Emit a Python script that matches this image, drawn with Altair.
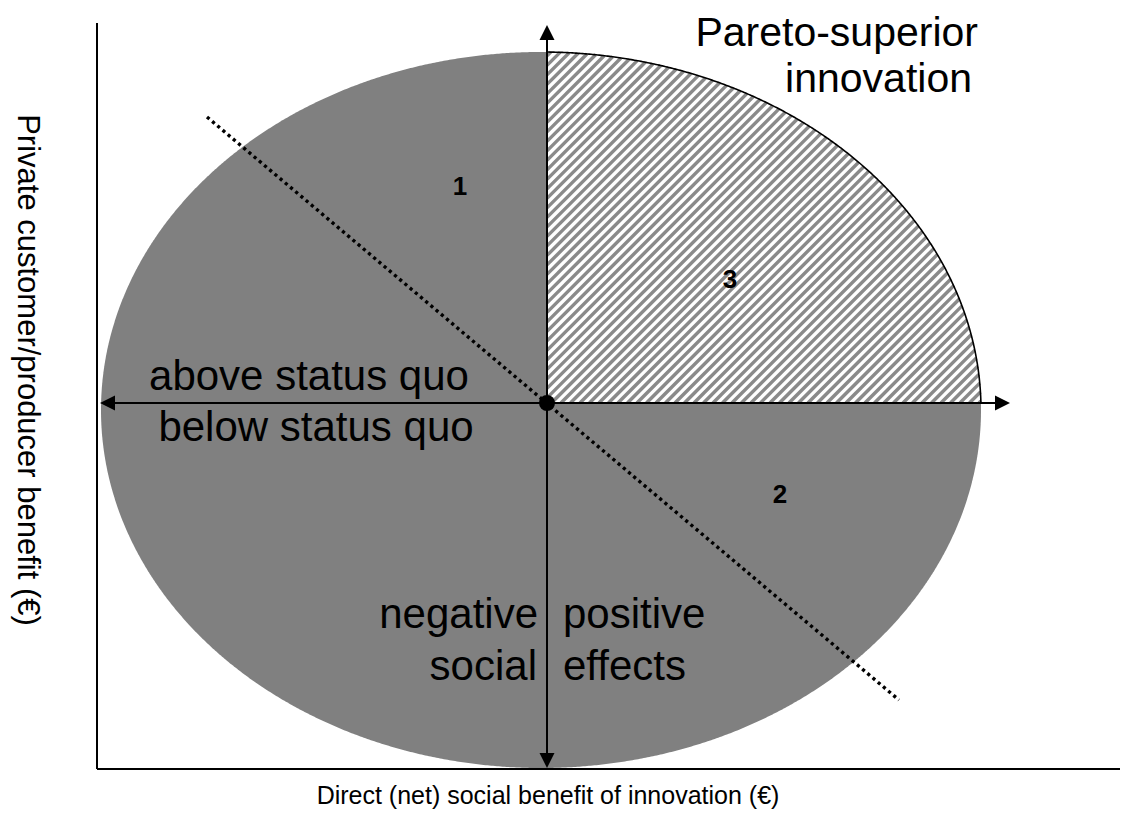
import numpy as np
import pandas as pd
import altair as alt

# ---- diagram geometry (data units, origin = status quo) ----
x_domain = [-450, 573]
y_domain = [-366, 380]

ellipse_center = [-6, -7]
ellipse_radii = [440, 358]

h_axis_extent = [-447, 463]      # horizontal arrow (tips)
v_axis_extent = [-365, 378]      # vertical arrow (tips)

dotted_start = [-340, 286]
dotted_end = [352, -297]

hatch_step = 9.5

# labels
label_center_text = ["above status quo", "below status quo"]
label_center_x = [-238, -231]
label_center_y = [13, -38]

label_right_text = ["negative", "social"]
label_right_x = [-9, -10]
label_right_y = [-225, -277]

title_text = ["Pareto-superior", "innovation"]
title_x = [431, 425]
title_y = [357, 311]

label_left_text = ["positive", "effects"]
label_left_x = [16, 16]
label_left_y = [-225, -277]

region_text = ["1", "3", "2"]
region_x = [-87, 183, 233]
region_y = [216, 123, -92]

x_title = "Direct (net) social benefit of innovation (€)"
x_title_pos = [1, -401]
y_title = "Private customer/producer benefit (€)"
y_title_pos = [-529, 33]

FONT = "Liberation Sans"

# ---- build tables ----
cx, cy = ellipse_center
rx, ry = ellipse_radii

t = np.linspace(np.pi, 0, 721)
ell = pd.DataFrame({
    "x": cx + rx * np.cos(t),
    "top": cy + ry * np.sin(t),
    "bot": cy - ry * np.sin(t),
})

t_a = np.arcsin(-cy / ry)
t_b = np.arccos(-cx / rx)
tq = np.linspace(t_b, t_a, 400)
quad = pd.DataFrame({
    "x": cx + rx * np.cos(tq),
    "y": cy + ry * np.sin(tq),
    "y0": 0.0,
})
quad.loc[0, "x"] = 0.0
quad.loc[len(quad) - 1, "y"] = 0.0

# hatch lines y = x + b clipped to the quarter region
x_right = quad["x"].max()
y_top = quad["y"].max()
rows = []
A = 1 / rx**2 + 1 / ry**2
b = -x_right + 2
while b < y_top:
    B = -2 * cx / rx**2 + 2 * (b - cy) / ry**2
    C = cx**2 / rx**2 + (b - cy) ** 2 / ry**2 - 1
    disc = B * B - 4 * A * C
    if disc > 0:
        x_lo = max(0.0, -b)
        x_hi = (-B + np.sqrt(disc)) / (2 * A)
        if x_hi > x_lo:
            rows.append({"x": x_lo, "y": x_lo + b, "x2": x_hi, "y2": x_hi + b})
    b += hatch_step
hatch = pd.DataFrame(rows)

xs = alt.Scale(domain=x_domain, nice=False, zero=False)
ys = alt.Scale(domain=y_domain, nice=False, zero=False)
X = lambda f: alt.X(f, scale=xs, axis=None)
Y = lambda f: alt.Y(f, scale=ys, axis=None)

ellipse = alt.Chart(ell).mark_area(color="#808080", opacity=1, strokeWidth=0).encode(
    x=X("x:Q"), y=Y("top:Q"), y2="bot:Q",
)

quad_fill = alt.Chart(quad).mark_area(color="white", opacity=1).encode(
    x=X("x:Q"), y=Y("y:Q"), y2="y0:Q",
)

hatch_lines = alt.Chart(hatch).mark_rule(color="#8a8a8a", strokeWidth=3.4).encode(
    x=X("x:Q"), y=Y("y:Q"), x2="x2:Q", y2="y2:Q",
)

arc = alt.Chart(quad).mark_line(color="black", strokeWidth=1.6).encode(
    x=X("x:Q"), y=Y("y:Q"),
)

# frame axes (left and bottom) of the plot
frame_df = pd.DataFrame({
    "x": [x_domain[0], x_domain[0]],
    "x2": [x_domain[0], x_domain[1]],
    "y": [y_domain[0], y_domain[0]],
    "y2": [y_domain[1], y_domain[0]],
})
frame = alt.Chart(frame_df).mark_rule(color="black", strokeWidth=2).encode(
    x=X("x:Q"), y=Y("y:Q"), x2="x2:Q", y2="y2:Q",
)

axes_df = pd.DataFrame({
    "x": [h_axis_extent[0] + 5, 0],
    "x2": [h_axis_extent[1] - 5, 0],
    "y": [0, v_axis_extent[0] + 5],
    "y2": [0, v_axis_extent[1] - 5],
})
axis_lines = alt.Chart(axes_df).mark_rule(color="black", strokeWidth=2).encode(
    x=X("x:Q"), y=Y("y:Q"), x2="x2:Q", y2="y2:Q",
)

dotted_df = pd.DataFrame({"x": [dotted_start[0]], "y": [dotted_start[1]],
                          "x2": [dotted_end[0]], "y2": [dotted_end[1]]})
dotted = alt.Chart(dotted_df).mark_rule(color="black", strokeWidth=3.4,
                                        strokeDash=[3.2, 3.6], strokeCap="butt").encode(
    x=X("x:Q"), y=Y("y:Q"), x2="x2:Q", y2="y2:Q",
)

heads_df = pd.DataFrame({
    "x": [h_axis_extent[0], h_axis_extent[1], 0, 0],
    "y": [0, 0, v_axis_extent[1], v_axis_extent[0]],
    "shape": ["M0,0L2,-1L2,1Z", "M0,0L-2,-1L-2,1Z", "M0,0L-1,2L1,2Z", "M0,0L-1,-2L1,-2Z"],
})
heads = alt.Chart(heads_df).mark_point(filled=True, color="black", opacity=1, size=225,
                                       strokeWidth=0).encode(
    x=X("x:Q"), y=Y("y:Q"),
    shape=alt.Shape("shape:N", scale=None, legend=None),
)

origin = alt.Chart(pd.DataFrame({"x": [0], "y": [0]})).mark_circle(
    color="black", opacity=1, size=256).encode(x=X("x:Q"), y=Y("y:Q"))


def text_layer(texts, xv, yv, align, size, weight="normal", baseline="alphabetic", angle=0):
    df = pd.DataFrame({"t": texts, "x": xv, "y": yv})
    return alt.Chart(df).mark_text(align=align, baseline=baseline, font=FONT,
                                   fontSize=size, fontWeight=weight, color="black",
                                   angle=angle).encode(
        x=X("x:Q"), y=Y("y:Q"), text="t:N",
    )


t_center = text_layer(label_center_text, label_center_x, label_center_y, "center", 42)
t_right = text_layer(label_right_text, label_right_x, label_right_y, "right", 42)
t_title = text_layer(title_text, title_x, title_y, "right", 41)
t_left = text_layer(label_left_text, label_left_x, label_left_y, "left", 42)
t_regions = text_layer(region_text, region_x, region_y, "center", 26, "bold", "middle")
t_xtitle = text_layer([x_title], [x_title_pos[0]], [x_title_pos[1]], "center", 25)
t_ytitle = text_layer([y_title], [y_title_pos[0]], [y_title_pos[1]], "center", 31, angle=90)

chart = alt.layer(
    ellipse, quad_fill, hatch_lines, arc, frame, axis_lines, dotted, heads, origin,
    t_center, t_right, t_title, t_left, t_regions, t_xtitle, t_ytitle,
).properties(
    width=1023, height=746,
    padding={"left": 89, "top": 15, "right": 0, "bottom": 45},
    autosize=alt.AutoSizeParams(type="none"),
    background="white",
).configure_view(strokeWidth=0)

chart.save("out.html", embed_options={"renderer": "svg", "actions": False})
